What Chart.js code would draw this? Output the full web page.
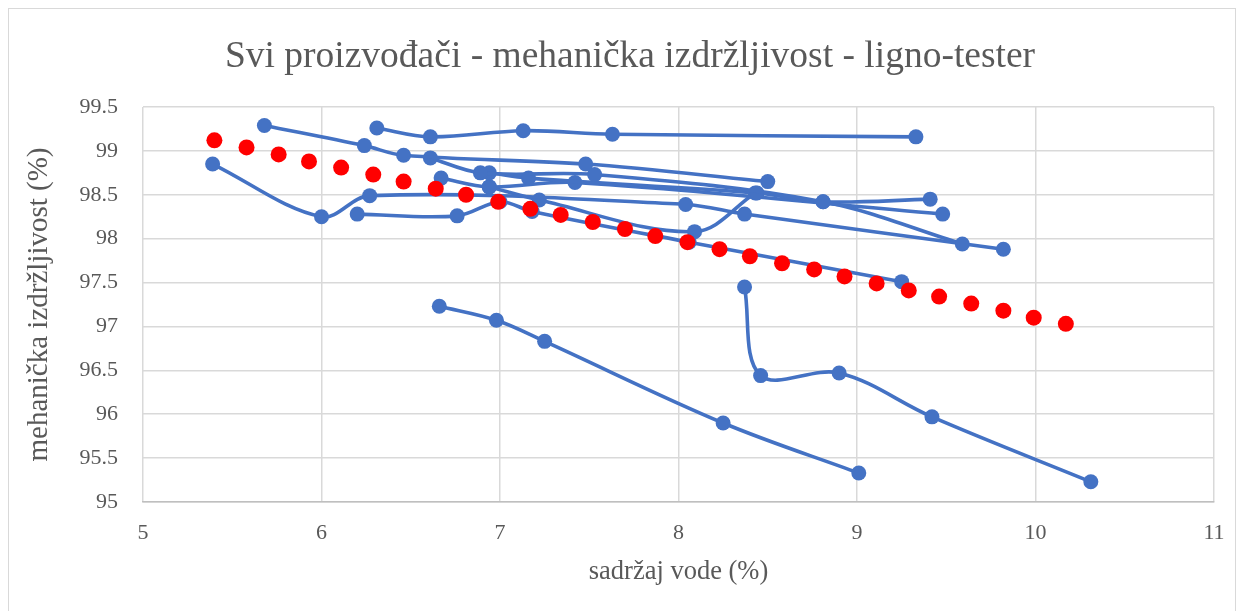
<!DOCTYPE html>
<html><head><meta charset="utf-8">
<script src="https://cdn.jsdelivr.net/npm/chart.js@4"></script>
<style>
html,body{margin:0;padding:0;background:#fff;}
#wrap{position:absolute;left:0;top:0;width:1244px;height:611px;}
#frame{position:absolute;left:8px;top:8px;width:1228px;height:620px;border:1px solid #d9d9d9;box-sizing:border-box;}
canvas{position:absolute;left:0;top:0;}
</style></head><body>
<div id="wrap"><div id="frame"></div><canvas id="c" width="1244" height="611"></canvas></div>
<script>
const titleText = "Svi proizvođači - mehanička izdržljivost - ligno-tester";
const xTitle = "sadržaj vode (%)";
const yTitle = "mehanička izdržljivost (%)";

// red series (markers only)
const redX = [5.40,5.58,5.76,5.93,6.11,6.29,6.46,6.64,6.81,6.99,7.17,7.34,7.52,7.70,7.87,8.05,8.23,8.40,8.58,8.76,8.93,9.11,9.29,9.46,9.64,9.82,9.99,10.17];
const redY = [99.12,99.04,98.96,98.88,98.81,98.73,98.65,98.57,98.50,98.42,98.34,98.27,98.19,98.11,98.03,97.96,97.88,97.80,97.72,97.65,97.57,97.49,97.41,97.34,97.26,97.18,97.10,97.03];

// blue series (smoothed lines with markers)
const s1x = [6.31,6.61,7.13,7.63,9.33];
const s1y = [99.26,99.16,99.23,99.19,99.16];
const s2x = [5.68,6.24,6.46,7.48,8.50];
const s2y = [99.29,99.06,98.95,98.85,98.65];
const s3x = [6.61,6.89,7.53,8.81,9.59];
const s3y = [98.92,98.75,98.73,98.42,97.94];
const s4x = [6.94,7.16,8.44,8.81,9.41];
const s4y = [98.75,98.69,98.52,98.42,98.45];
const s5x = [6.67,6.94,7.42,9.48];
const s5y = [98.69,98.59,98.64,98.28];
const s6x = [5.39,6.00,6.27,8.04,8.37,9.82];
const s6y = [98.85,98.25,98.49,98.39,98.28,97.88];
const s7x = [6.20,6.76,7.00,7.18,8.06,9.25];
const s7y = [98.28,98.26,98.42,98.31,97.96,97.51];
const s8x = [6.94,7.22,8.09,8.43];
const s8y = [98.59,98.44,98.08,98.52];
const s9x = [6.66,6.98,7.25,8.25,9.01];
const s9y = [97.23,97.07,96.83,95.90,95.33];
const s10x = [8.37,8.46,8.90,9.42,10.31];
const s10y = [97.45,96.44,96.47,95.97,95.23];

const xTicks = [5,6,7,8,9,10,11];
const yTicks = [95,95.5,96,96.5,97,97.5,98,98.5,99,99.5];

const pts = (xs, ys) => xs.map((x, i) => ({x: x, y: ys[i]}));
const BLUE = '#4472C4', RED = '#FF0000', TXT = '#595959';
const blueSeries = [[s1x,s1y],[s2x,s2y],[s3x,s3y],[s4x,s4y],[s5x,s5y],[s6x,s6y],[s7x,s7y],[s8x,s8y],[s9x,s9y],[s10x,s10y]];

const datasets = [{
  label: 'red', data: pts(redX, redY), showLine: false,
  pointRadius: 8, pointBackgroundColor: RED, pointBorderColor: RED, pointBorderWidth: 0
}].concat(blueSeries.map((s, i) => ({
  label: 'S' + (i + 1), data: pts(s[0], s[1]), showLine: true, tension: 0.35,
  borderColor: BLUE, borderWidth: 3.6, pointRadius: 7.5, pointBackgroundColor: BLUE,
  pointBorderColor: BLUE, pointBorderWidth: 0
})));

const titleShift = {
  id: 'titleShift',
  afterLayout(chart) {
    const t = chart.titleBlock;
    if (t) { t.left += 18; t.right += 18; }
  }
};

const FONT = "'Liberation Serif', 'Times New Roman', serif";
new Chart(document.getElementById('c'), {
  type: 'scatter',
  data: { datasets: datasets },
  plugins: [titleShift],
  options: {
    responsive: false, animation: false, devicePixelRatio: 1,
    layout: { padding: { left: 10, right: 30, top: 10, bottom: 10 } },
    plugins: {
      legend: { display: false }, tooltip: { enabled: false },
      title: { display: true, text: titleText, color: TXT,
        font: { family: FONT, size: 37.5, weight: 'normal', lineHeight: 1.2 },
        padding: { top: 25, bottom: 27 } }
    },
    scales: {
      x: {
        type: 'linear', min: 5, max: 11,
        afterBuildTicks: s => { s.ticks = xTicks.map(v => ({ value: v })); },
        afterFit: s => { s.height = 99; },
        grid: { color: '#d9d9d9', lineWidth: 1.5, drawTicks: false },
        border: { color: '#bfbfbf', width: 1.5 },
        ticks: { color: TXT, padding: 18, font: { family: FONT, size: 22 }, maxRotation: 0 },
        title: { display: true, text: xTitle, color: TXT, padding: { top: 0, bottom: 13 },
          font: { family: FONT, size: 26.5, lineHeight: 1.2 } }
      },
      y: {
        type: 'linear', min: 95, max: 99.5,
        afterBuildTicks: s => { s.ticks = yTicks.map(v => ({ value: v })); },
        afterFit: s => { s.width = 133; },
        grid: { color: '#d9d9d9', lineWidth: 1.5, drawTicks: false },
        border: { display: false },
        ticks: { color: TXT, padding: 25, font: { family: FONT, size: 22 },
          callback: v => String(v) },
        title: { display: true, text: yTitle, color: TXT, padding: { top: 12, bottom: 0 },
          font: { family: FONT, size: 29, lineHeight: 1.2 } }
      }
    }
  }
});
</script>
</body></html>
